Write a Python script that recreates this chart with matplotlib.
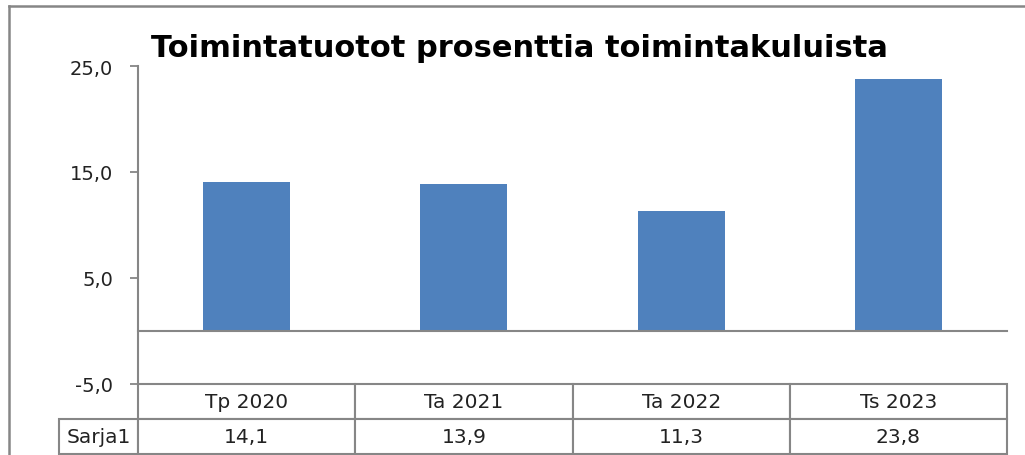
import numpy as np
import matplotlib.pyplot as plt
from matplotlib.lines import Line2D

# data
categories = ['Tp 2020', 'Ta 2021', 'Ta 2022', 'Ts 2023']
values = [14.1, 13.9, 11.3, 23.8]
series_name = 'Sarja1'
title = 'Toimintatuotot prosenttia toimintakuluista'
yticks = [-5, 5, 15, 25]

W, H = 1025, 456
grey = '#868686'
bar_col = '#4F81BD'

plt.rcParams['font.family'] = 'DejaVu Sans'
fig = plt.figure(figsize=(W/100, H/100), dpi=100)
ax = fig.add_axes([138/W, 1 - 385/H, (1007-138)/W, (385-67)/H])

x = np.arange(len(categories))
ax.bar(x, values, width=0.4, color=bar_col, zorder=2)
ax.set_xlim(-0.5, len(categories) - 0.5)
ax.set_ylim(-5, 25)

ax.set_yticks(yticks)
ax.set_yticklabels([f'{v:.1f}'.replace('.', ',') for v in yticks], fontsize=14, color='#222222')
ax.tick_params(axis='y', length=6, width=1.3, color=grey, pad=12)
ax.set_xticks([])

for s in ['top', 'right']:
    ax.spines[s].set_visible(False)
ax.spines['left'].set_color(grey)
ax.spines['left'].set_linewidth(1.5)
ax.spines['bottom'].set_position(('data', 0))
ax.spines['bottom'].set_color(grey)
ax.spines['bottom'].set_linewidth(1.5)

# data table below the plot
cell_text = [[series_name] + [f'{v:.1f}'.replace('.', ',') for v in values]]
label_w = 79 / (1007 - 138)
col_w = [label_w] + [1.0 / len(categories)] * len(categories)
tbl = ax.table(cellText=cell_text, colLabels=[''] + categories,
               colWidths=col_w, cellLoc='center',
               bbox=[-label_w, -70/318, 1 + label_w, 70/318])
tbl.auto_set_font_size(False)
tbl.set_fontsize(14.5)
for (r, c), cell in tbl.get_celld().items():
    cell.set_edgecolor(grey)
    cell.set_linewidth(1.5)
    cell.get_text().set_color('#222222')
    if r == 0 and c == 0:
        cell.visible_edges = ''

# title
fig.text(519/W, 1 - 57/H, title, ha='center', va='baseline',
         fontsize=22, fontweight='bold', color='black')

# outer chart frame (right and bottom cut off)
fig.add_artist(Line2D([9/W, 9/W], [0, 1 - 7/H], color=grey, lw=1.8))
fig.add_artist(Line2D([9/W, 1], [1 - 7/H, 1 - 7/H], color=grey, lw=1.8))

fig.savefig('out.png', dpi=100)
